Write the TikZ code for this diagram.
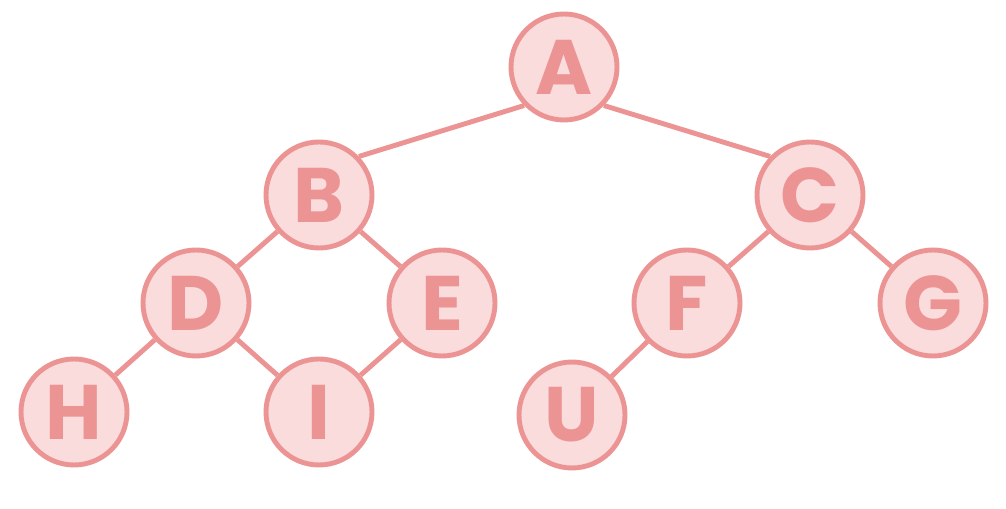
\documentclass[tikz,border=0pt]{standalone}
\usepackage{fontspec}
\setmainfont{Poppins}
\definecolor{treeline}{RGB}{236,148,148}
\definecolor{treefill}{RGB}{250,220,221}
\begin{document}
\begin{tikzpicture}[every node/.style={circle, inner sep=0pt}]
\useasboundingbox (0,0) rectangle (20.12,10.16);

\coordinate (PA) at (11.28, 8.82);
\coordinate (PB) at (6.38, 6.26);
\coordinate (PC) at (16.20, 6.26);

\coordinate (PD) at (3.92, 4.10);
\coordinate (PE) at (8.84, 4.10);
\coordinate (PF) at (13.74, 4.10);
\coordinate (PG) at (18.66, 4.10);

\coordinate (PH) at (1.48, 1.92);
\coordinate (PI) at (6.38, 1.92);
\coordinate (PU) at (11.44, 1.86);

\fontsize{44}{44}\selectfont\bfseries
\begin{scope}[every node/.style={circle, inner sep=0pt, minimum size=2.12cm, line width=2.8pt, draw=treeline, fill=treefill, text=treeline}]
\node (A) at (PA) {A};
\node (B) at (PB) {B};
\node (C) at (PC) {C};
\node (D) at (PD) {D};
\node (E) at (PE) {E};
\node (F) at (PF) {F};
\node (G) at (PG) {G};
\node (H) at (PH) {H};
\node (I) at (PI) {I};
\node (U) at (PU) {U};
\end{scope}

\begin{scope}[treeline, line width=2.8pt]
\draw (A.224) -- (B.44);
\draw (A.-44) -- (C.136);
\draw (B) -- (D);
\draw (B) -- (E);
\draw (C) -- (F);
\draw (C) -- (G);
\draw (D) -- (H);
\draw (D) -- (I);
\draw (E) -- (I);
\draw (F) -- (U);
\end{scope}

\end{tikzpicture}
\end{document}
